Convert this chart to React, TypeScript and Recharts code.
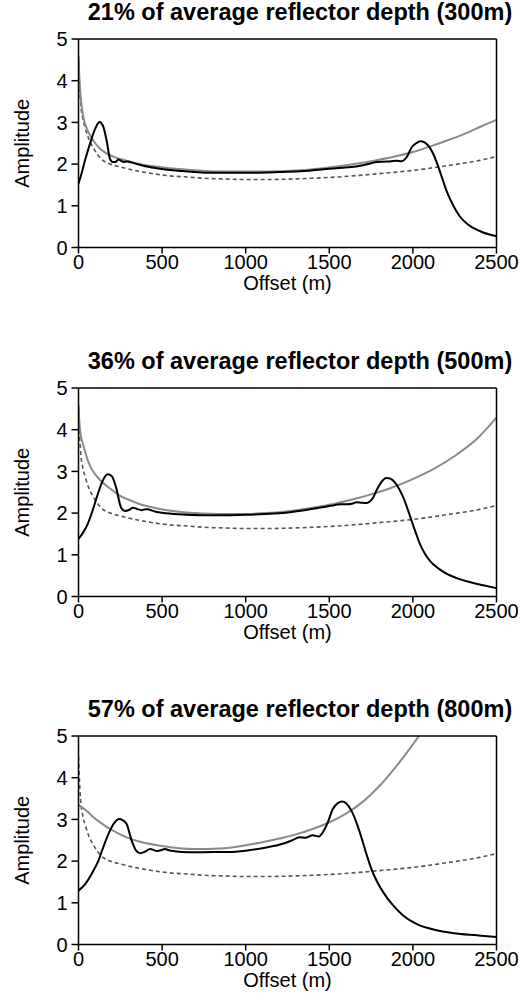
import React from 'react';
import { LineChart, Line, XAxis, YAxis, ReferenceLine } from 'recharts';

// Shared dashed reference curve (same in every panel)
const dashedX = [0, 5, 13, 25, 40, 60, 90, 135, 190, 250, 335, 430, 540, 650, 750, 870, 1000, 1130, 1260, 1400, 1541, 1680, 1820, 1930, 2003, 2100, 2200, 2300, 2400, 2500];
const dashedY = [4.5, 4.0, 3.45, 3.1, 2.87, 2.62, 2.38, 2.13, 2.0, 1.93, 1.85, 1.78, 1.72, 1.69, 1.66, 1.645, 1.63, 1.63, 1.64, 1.66, 1.69, 1.73, 1.78, 1.82, 1.85, 1.9, 1.96, 2.02, 2.09, 2.18];

// Panel 1: 300 m
const theory300X = [0, 5, 13, 29, 45, 69, 100, 129, 170, 220, 288, 380, 487, 600, 786, 900, 1000, 1200, 1325, 1500, 1700, 1923, 2000, 2122, 2200, 2322, 2400, 2500];
const theory300Y = [4.6, 4.1, 3.61, 3.13, 2.9, 2.69, 2.5, 2.37, 2.25, 2.16, 2.08, 1.99, 1.93, 1.88, 1.83, 1.82, 1.82, 1.83, 1.85, 1.92, 2.03, 2.21, 2.29, 2.45, 2.56, 2.75, 2.89, 3.06];
const measured300X = [0, 20, 39, 69, 100, 125, 145, 168, 188, 204, 220, 238, 255, 268, 290, 318, 350, 400, 487, 600, 786, 1000, 1200, 1325, 1500, 1684, 1750, 1784, 1850, 1900, 1933, 1963, 1994, 2024, 2045, 2070, 2100, 2142, 2172, 2202, 2242, 2280, 2320, 2361, 2420, 2500];
const measured300Y = [1.53, 1.8, 2.09, 2.49, 2.85, 3.01, 2.93, 2.57, 2.13, 2.05, 2.05, 2.11, 2.08, 2.05, 2.06, 2.04, 2.0, 1.95, 1.89, 1.84, 1.79, 1.79, 1.81, 1.83, 1.89, 1.96, 2.02, 2.05, 2.06, 2.08, 2.07, 2.17, 2.41, 2.51, 2.55, 2.52, 2.4, 2.05, 1.7, 1.35, 1.0, 0.75, 0.58, 0.47, 0.36, 0.27];

// Panel 2: 500 m
const theory500X = [0, 5, 12, 22, 34, 50, 74, 100, 135, 195, 255, 320, 376, 440, 496, 600, 737, 850, 1000, 1120, 1240, 1370, 1500, 1620, 1750, 1880, 2003, 2130, 2250, 2380, 2500];
const theory500Y = [4.6, 4.2, 3.9, 3.72, 3.55, 3.33, 3.09, 2.93, 2.77, 2.57, 2.4, 2.29, 2.2, 2.14, 2.09, 2.03, 1.99, 1.98, 1.98, 2.0, 2.04, 2.11, 2.2, 2.31, 2.45, 2.62, 2.82, 3.07, 3.37, 3.77, 4.29];
const measured500X = [0, 30, 54, 85, 115, 145, 175, 200, 225, 255, 280, 305, 325, 350, 376, 400, 416, 440, 456, 500, 600, 737, 870, 1000, 1120, 1240, 1370, 1500, 1530, 1561, 1600, 1641, 1661, 1690, 1722, 1742, 1762, 1783, 1803, 1823, 1843, 1868, 1893, 1918, 1943, 1968, 1993, 2018, 2043, 2073, 2103, 2150, 2203, 2270, 2344, 2420, 2500];
const measured500Y = [1.38, 1.55, 1.73, 2.07, 2.45, 2.78, 2.93, 2.88, 2.61, 2.13, 2.05, 2.08, 2.13, 2.1, 2.07, 2.09, 2.09, 2.06, 2.04, 2.01, 1.97, 1.95, 1.95, 1.96, 1.98, 2.01, 2.08, 2.17, 2.19, 2.21, 2.21, 2.23, 2.26, 2.25, 2.24, 2.28, 2.37, 2.55, 2.69, 2.8, 2.84, 2.82, 2.73, 2.58, 2.37, 2.1, 1.81, 1.52, 1.25, 1.02, 0.85, 0.68, 0.54, 0.43, 0.34, 0.27, 0.2];

// Panel 3: 800 m
const theory800X = [0, 50, 89, 140, 189, 240, 288, 380, 487, 600, 700, 767, 850, 1000, 1100, 1200, 1300, 1400, 1500, 1600, 1700, 1800, 1900, 2000, 2045, 2100];
const theory800Y = [3.35, 3.2, 3.05, 2.9, 2.77, 2.66, 2.57, 2.45, 2.37, 2.31, 2.29, 2.29, 2.3, 2.38, 2.45, 2.54, 2.64, 2.77, 2.93, 3.14, 3.42, 3.8, 4.27, 4.8, 5.05, 5.4];
const measured800X = [0, 40, 89, 120, 148, 188, 215, 244, 265, 288, 318, 345, 368, 395, 428, 448, 468, 492, 517, 542, 567, 620, 700, 800, 900, 1000, 1100, 1200, 1280, 1320, 1360, 1400, 1437, 1461, 1491, 1521, 1551, 1578, 1602, 1632, 1662, 1692, 1722, 1752, 1783, 1823, 1883, 1943, 2024, 2124, 2245, 2385, 2500];
const measured800Y = [1.29, 1.45, 1.77, 2.02, 2.33, 2.73, 2.92, 3.01, 2.98, 2.89, 2.49, 2.25, 2.19, 2.22, 2.29, 2.27, 2.24, 2.26, 2.29, 2.26, 2.24, 2.22, 2.21, 2.22, 2.22, 2.25, 2.31, 2.39, 2.5, 2.57, 2.56, 2.62, 2.59, 2.69, 2.93, 3.25, 3.39, 3.43, 3.38, 3.21, 2.93, 2.57, 2.17, 1.81, 1.53, 1.25, 0.93, 0.69, 0.49, 0.36, 0.27, 0.22, 0.18];

const titles = [
  '21% of average reflector depth (300m)',
  '36% of average reflector depth (500m)',
  '57% of average reflector depth (800m)',
];
const xTicks = [0, 500, 1000, 1500, 2000, 2500];
const yTicks = [0, 1, 2, 3, 4, 5];

const toPts = (xs: number[], ys: number[]) => xs.map((x, i) => ({ x, y: ys[i] }));

const FONT = '"Liberation Sans", Arial, Helvetica, sans-serif';
const CW = 527;
const CH = 300;
const PANEL_TOPS = [0, 348.5, 697];

type PanelProps = {
  title: string;
  top: number;
  theory: { x: number; y: number }[];
  measured: { x: number; y: number }[];
  dashed: { x: number; y: number }[];
};

function Panel({ title, top, theory, measured, dashed }: PanelProps) {
  return (
    <div style={{ position: 'absolute', left: 0, top, width: CW, height: CH }}>
      <div
        style={{
          position: 'absolute',
          left: 70,
          width: 460,
          top: 0,
          textAlign: 'center',
          fontWeight: 'bold',
          fontSize: 23.5,
          lineHeight: '24px',
          whiteSpace: 'nowrap',
          color: '#000',
        }}
      >
        {title}
      </div>
      <LineChart width={CW} height={CH} margin={{ top: 39, right: 30.5, bottom: 0, left: 0 }}>
        <XAxis
          type="number"
          dataKey="x"
          domain={[0, 2500]}
          ticks={xTicks}
          allowDataOverflow
          interval={0}
          height={52.5}
          tickSize={6}
          tickMargin={1}
          stroke="#000"
          strokeWidth={1.5}
          tick={{ fill: '#000', fontSize: 20 }}
          label={{
            content: (props: any) => {
              const vb = props.viewBox || { x: 78.5, y: 247.5, width: 418 };
              return (
                <text x={vb.x + vb.width / 2} y={vb.y + 42} textAnchor="middle" fontSize={20} fill="#000">
                  Offset (m)
                </text>
              );
            },
          }}
        />
        <YAxis
          type="number"
          domain={[0, 5]}
          ticks={yTicks}
          allowDataOverflow
          interval={0}
          width={78.5}
          tickSize={7}
          tickMargin={4}
          stroke="#000"
          strokeWidth={1.5}
          tick={{ fill: '#000', fontSize: 20 }}
          label={{
            content: (props: any) => {
              const vb = props.viewBox || { x: 0, y: 39, height: 208.5 };
              const cx = vb.x + 22;
              const cy = vb.y + vb.height / 2;
              return (
                <text
                  x={cx}
                  y={cy}
                  transform={`rotate(-90 ${cx} ${cy})`}
                  textAnchor="middle"
                  dominantBaseline="central"
                  fontSize={20}
                  fill="#000"
                >
                  Amplitude
                </text>
              );
            },
          }}
        />
        <Line
          data={dashed}
          dataKey="y"
          type="monotone"
          stroke="#555"
          strokeWidth={1.6}
          strokeDasharray="4 3"
          dot={false}
          activeDot={false}
          isAnimationActive={false}
        />
        <Line
          data={theory}
          dataKey="y"
          type="monotone"
          stroke="#8a8a8a"
          strokeWidth={2}
          dot={false}
          activeDot={false}
          isAnimationActive={false}
        />
        <Line
          data={measured}
          dataKey="y"
          type="monotone"
          stroke="#000"
          strokeWidth={2}
          dot={false}
          activeDot={false}
          isAnimationActive={false}
        />
        <ReferenceLine y={5} stroke="#000" strokeWidth={1.5} />
        <ReferenceLine x={2500} stroke="#000" strokeWidth={1.5} />
      </LineChart>
    </div>
  );
}

export default function App() {
  const dashed = toPts(dashedX, dashedY);
  const panels = [
    { theory: toPts(theory300X, theory300Y), measured: toPts(measured300X, measured300Y) },
    { theory: toPts(theory500X, theory500Y), measured: toPts(measured500X, measured500Y) },
    { theory: toPts(theory800X, theory800Y), measured: toPts(measured800X, measured800Y) },
  ];
  return (
    <div
      style={{
        position: 'absolute',
        left: 0,
        top: 0,
        width: CW,
        height: 1000,
        background: '#fff',
        fontFamily: FONT,
      }}
    >
      {panels.map((p, i) => (
        <Panel key={i} title={titles[i]} top={PANEL_TOPS[i]} theory={p.theory} measured={p.measured} dashed={dashed} />
      ))}
    </div>
  );
}
